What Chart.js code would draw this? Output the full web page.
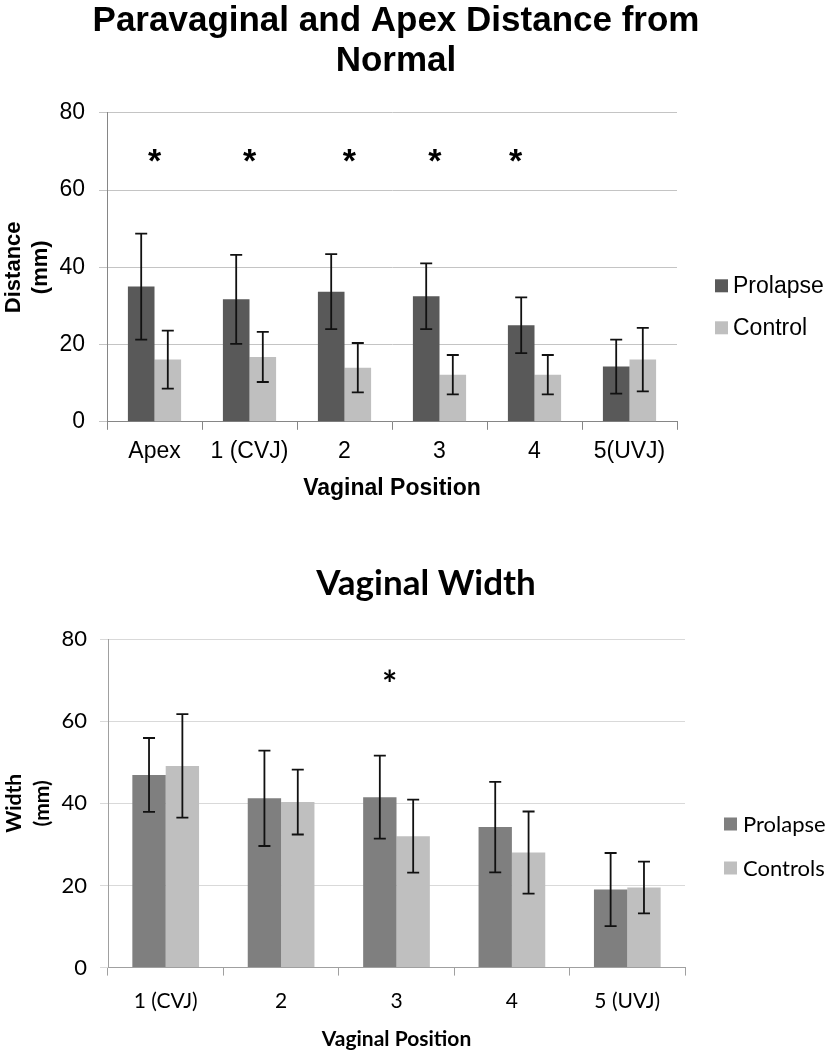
<!DOCTYPE html>
<html>
<head>
<meta charset="utf-8">
<script src="https://cdn.jsdelivr.net/npm/chart.js@4.4.0/dist/chart.umd.min.js"></script>
<style>
  body { margin: 0; background: #fff; }
  #wrap { position: relative; width: 829px; height: 1050px; overflow: hidden; }
  canvas { position: absolute; left: 0; }
</style>
</head>
<body>
<div id="wrap">
  <canvas id="distChart" width="829" height="520" style="top:0"></canvas>
  <canvas id="widthChart" width="829" height="512" style="top:540px"></canvas>
</div>
<script>
// Paravaginal / apex distance (top chart)
const distLabels = ['Apex', '1 (CVJ)', '2', '3', '4', '5(UVJ)'];
const distProlapse = [35.0, 31.7, 33.7, 32.5, 25.0, 14.3];
const distProlapseErr = [13.7, 11.5, 9.7, 8.5, 7.2, 7.0];
const distControl = [16.1, 16.8, 14.0, 12.2, 12.2, 16.1];
const distControlErr = [7.5, 6.5, 6.4, 5.1, 5.1, 8.2];
const distStarAt = [0, 1, 2.05, 2.95, 3.8];   // where the * marks sit (category units)
const distStarY = 69;

// Vaginal width (bottom chart)
const widthLabels = ['1 (CVJ)', '2', '3', '4', '5 (UVJ)'];
const widthProlapse = [46.9, 41.2, 41.5, 34.2, 19.0];
const widthProlapseErr = [9.0, 11.6, 10.1, 11.0, 8.9];
const widthControls = [49.1, 40.3, 32.0, 28.0, 19.5];
const widthControlsErr = [12.6, 7.9, 8.9, 10.0, 6.3];
const widthStarAt = [1.94];
const widthStarY = 71;

const yMax = 80;
const yStep = 20;

// error bars, significance stars and the side legend
const barDecor = {
    id: 'barDecor',
    afterLayout(chart, args, opts) {
        // centre the title where the original had it
        chart.titleBlock.left = opts.titleCenter - 400;
        chart.titleBlock.right = opts.titleCenter + 400;
    },
    afterDatasetsDraw(chart, args, opts) {
        let ctx = chart.ctx;
        let xs = chart.scales.x, ys = chart.scales.y;
        let area = chart.chartArea;
        ctx.save();

        ctx.strokeStyle = '#111';
        ctx.lineWidth = 1.8;
        chart.data.datasets.forEach((ds, di) => {
            chart.getDatasetMeta(di).data.forEach((bar, i) => {
                let v = ds.data[i], e = ds.errors[i];
                let top = ys.getPixelForValue(v + e);
                let bot = ys.getPixelForValue(v - e);
                let c = opts.cap / 2;
                ctx.beginPath();
                ctx.moveTo(bar.x, top); ctx.lineTo(bar.x, bot);
                ctx.moveTo(bar.x - c, top); ctx.lineTo(bar.x + c, top);
                ctx.moveTo(bar.x - c, bot); ctx.lineTo(bar.x + c, bot);
                ctx.stroke();
            });
        });

        ctx.fillStyle = '#000';
        ctx.font = opts.starFont;
        ctx.textAlign = 'center';
        ctx.textBaseline = 'alphabetic';
        let m = ctx.measureText('*');
        let shift = (m.actualBoundingBoxAscent - m.actualBoundingBoxDescent) / 2;
        opts.stars.forEach(p => {
            ctx.fillText('*', xs.getPixelForValue(p), ys.getPixelForValue(opts.starY) + shift);
        });

        ctx.font = opts.legendFont;
        ctx.textAlign = 'left';
        ctx.textBaseline = 'middle';
        chart.data.datasets.forEach((ds, di) => {
            let cy = area.top + opts.legendY[di];
            let bx = area.right + opts.legendX;
            ctx.fillStyle = ds.backgroundColor;
            ctx.fillRect(bx, cy - opts.box / 2, opts.box, opts.box);
            ctx.fillStyle = '#000';
            ctx.fillText(ds.label, bx + opts.textGap, cy + 1);
        });
        ctx.restore();
    }
};

// Top chart
const arial = 'Liberation Sans, Arial, sans-serif';
new Chart(document.getElementById('distChart'), {
    type: 'bar',
    data: {
        labels: distLabels,
        datasets: [
            { label: 'Prolapse', data: distProlapse, errors: distProlapseErr, backgroundColor: '#595959' },
            { label: 'Control', data: distControl, errors: distControlErr, backgroundColor: '#bfbfbf' }
        ]
    },
    plugins: [barDecor],
    options: {
        responsive: false,
        animation: false,
        layout: { padding: { left: 0, right: 152, top: 0, bottom: 18 } },
        datasets: { bar: { barPercentage: 1, categoryPercentage: 0.56 } },
        plugins: {
            legend: { display: false },
            tooltip: { enabled: false },
            title: {
                display: true,
                text: ['Paravaginal and Apex Distance from', 'Normal'],
                color: '#000',
                font: { family: arial, size: 35, weight: 'bold', lineHeight: 1.14 },
                padding: { top: 1, bottom: 32 }
            },
            barDecor: {
                titleCenter: 396,
                cap: 12,
                stars: distStarAt,
                starY: distStarY,
                starFont: 'bold 34px ' + arial,
                legendFont: '23px ' + arial,
                legendX: 38,
                legendY: [173, 215],
                box: 13,
                textGap: 18
            }
        },
        scales: {
            x: {
                grid: { drawOnChartArea: false, color: '#868686', tickLength: 8 },
                border: { color: '#868686' },
                ticks: { color: '#000', padding: 8, font: { family: arial, size: 23 } },
                title: {
                    display: true, text: 'Vaginal Position', color: '#000',
                    font: { family: arial, size: 23, weight: 'bold' },
                    padding: { top: 1, bottom: 0 }
                }
            },
            y: {
                min: 0,
                max: yMax,
                afterFit: (scale) => { scale.width = 107; },
                grid: { color: '#c4c4c4', tickLength: 8 },
                border: { color: '#868686' },
                ticks: { stepSize: yStep, color: '#000', padding: 14, font: { family: arial, size: 23 } },
                title: {
                    display: true, text: ['Distance', '(mm)'], color: '#000',
                    font: { family: arial, size: 22, weight: 'bold', lineHeight: 1.25 },
                    padding: { top: 0, bottom: 4 }
                }
            }
        }
    }
});

// Bottom chart
const lato = 'Lato, sans-serif';
new Chart(document.getElementById('widthChart'), {
    type: 'bar',
    data: {
        labels: widthLabels,
        datasets: [
            { label: 'Prolapse', data: widthProlapse, errors: widthProlapseErr, backgroundColor: '#7f7f7f' },
            { label: 'Controls', data: widthControls, errors: widthControlsErr, backgroundColor: '#bfbfbf' }
        ]
    },
    plugins: [barDecor],
    options: {
        responsive: false,
        animation: false,
        layout: { padding: { left: 0, right: 144, top: 0, bottom: 0 } },
        datasets: { bar: { barPercentage: 1, categoryPercentage: 0.578 } },
        plugins: {
            legend: { display: false },
            tooltip: { enabled: false },
            title: {
                display: true,
                text: 'Vaginal Width',
                color: '#000',
                font: { family: lato, size: 35, weight: 'bold', lineHeight: 1.2 },
                padding: { top: 23, bottom: 34 }
            },
            barDecor: {
                titleCenter: 426,
                cap: 12,
                stars: widthStarAt,
                starY: widthStarY,
                starFont: 'bold 36px ' + lato,
                legendFont: '22px ' + lato,
                legendX: 39,
                legendY: [185, 229],
                box: 13,
                textGap: 19
            }
        },
        scales: {
            x: {
                grid: { drawOnChartArea: false, color: '#a0a0a0', tickLength: 8 },
                border: { color: '#a0a0a0' },
                ticks: { color: '#000', padding: 13, font: { family: lato, size: 21 } },
                title: {
                    display: true, text: 'Vaginal Position', color: '#000',
                    font: { family: lato, size: 21, weight: 'bold' },
                    padding: { top: 0, bottom: 0 }
                }
            },
            y: {
                min: 0,
                max: yMax,
                afterFit: (scale) => { scale.width = 108; },
                grid: { color: '#d9d9d9', tickLength: 8 },
                border: { color: '#a0a0a0' },
                ticks: { stepSize: yStep, color: '#000', padding: 13, font: { family: lato, size: 22 } },
                title: {
                    display: true, text: ['Width', '(mm)'], color: '#000',
                    font: { family: lato, size: 21, weight: 'bold', lineHeight: 1.35 },
                    padding: { top: 0, bottom: 4 }
                }
            }
        }
    }
});
</script>
</body>
</html>
